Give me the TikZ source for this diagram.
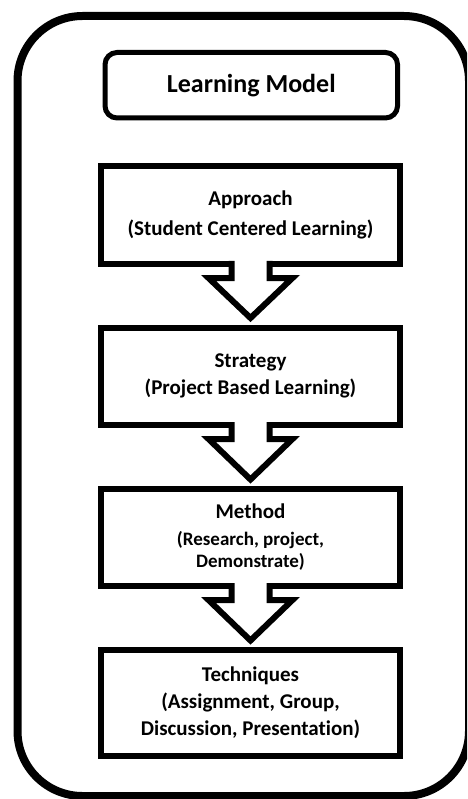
\documentclass[tikz,border=0pt]{standalone}
\usepackage{fontspec}
\setmainfont{Carlito}[Ligatures=NoCommon]
\usetikzlibrary{calc}
\begin{document}
\begin{tikzpicture}[x=1pt, y=-1pt,
  frame/.style={draw=black, line width=8pt, rounded corners=65pt},
  titlebox/.style={draw=black, line width=5pt, rounded corners=12pt,
    minimum width=292.5pt, minimum height=65.5pt, inner sep=0pt, outer sep=0pt,
    font=\bfseries\fontsize{26}{31}\selectfont},
  stagebox/.style={draw=black, fill=white, line width=6pt, minimum width=299pt,
    inner sep=0pt, outer sep=0pt, align=center,
    font=\bfseries\fontsize{21}{27}\selectfont},
  arrowfill/.style={fill=white, draw=none},
  blockarrow/.style={draw=black, line width=6pt, miter limit=10},
]
\useasboundingbox (0,0) rectangle (467,799);
\clip (0,0) rectangle (467,799);

% outer frame
\draw[frame] (17.5,16) rectangle (469,796);

% title and the four stages
\node[titlebox] (model) at (251.25,85.25) {Learning Model};
\node[stagebox, minimum height=98pt] (approach) at (250.5,215)
  {Approach\\[3pt](Student Centered Learning)};
\node[stagebox, minimum height=97.5pt] (strategy) at (250.5,376.25)
  {Strategy\\(Project Based Learning)};
\node[stagebox, minimum height=97pt, font=\bfseries\fontsize{19}{22}\selectfont] (method) at (250.5,537.5)
  {{\fontsize{21}{27}\selectfont Method}\\[5pt](Research, project,\\Demonstrate)};
\node[stagebox, minimum height=106pt] (techniques) at (250.5,703)
  {Techniques\\(Assignment, Group,\\Discussion, Presentation)};

% block arrows between consecutive stages
\foreach \a/\b in {approach/strategy, strategy/method, method/techniques} {
  \fill[arrowfill] ($(\a.south)+(-19,-3)$) -- ($(\a.south)+(-19,14)$)
    -- ($(\a.south)+(-42,14)$) -- ($(\b.north)+(0,-9.5)$)
    -- ($(\a.south)+(42,14)$) -- ($(\a.south)+(19,14)$)
    -- ($(\a.south)+(19,-3)$) -- cycle;
  \draw[blockarrow] ($(\a.south)+(-19,-3)$) -- ($(\a.south)+(-19,14)$)
    -- ($(\a.south)+(-42,14)$) -- ($(\b.north)+(0,-9.5)$)
    -- ($(\a.south)+(42,14)$) -- ($(\a.south)+(19,14)$)
    -- ($(\a.south)+(19,-3)$);
}
\end{tikzpicture}
\end{document}
